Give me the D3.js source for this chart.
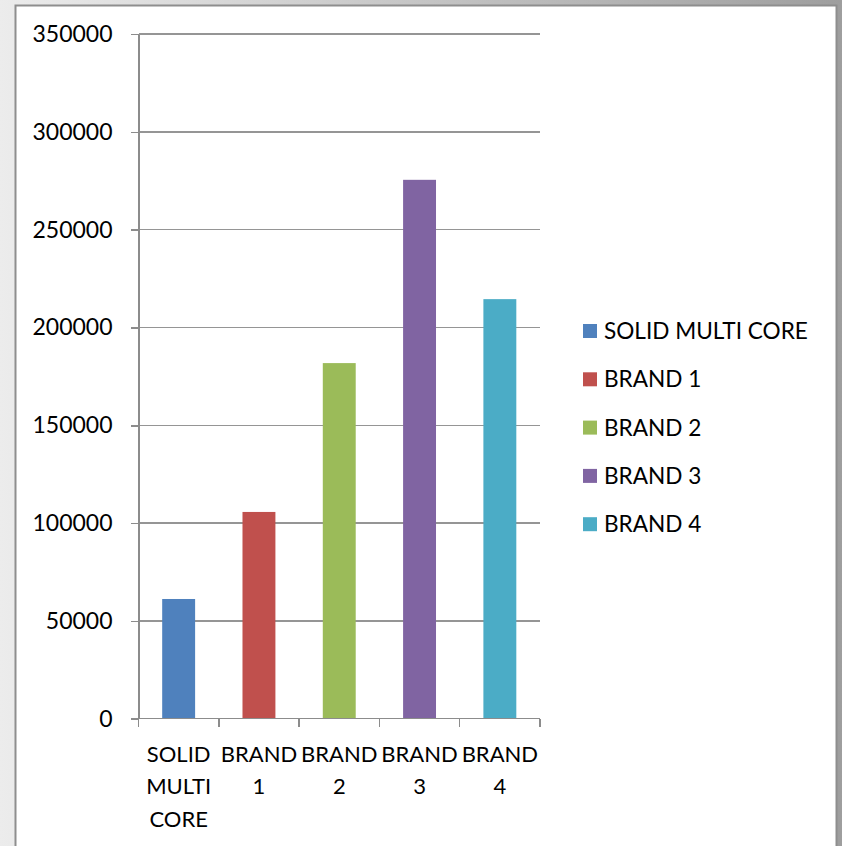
<!DOCTYPE html>
<html>
<head>
<meta charset="utf-8">
<title>Brand comparison</title>
<script src="https://cdnjs.cloudflare.com/ajax/libs/d3/7.8.5/d3.min.js"></script>
<style>
  body { margin: 0; padding: 0; }
  svg { display: block; }
  text { font-family: Lato, "Open Sans", sans-serif; fill: #000; }
  .axis path, .axis line { stroke: #8c8c8c; stroke-width: 1.5; shape-rendering: crispEdges; }
  .grid line { stroke: #959595; stroke-width: 1.5; shape-rendering: crispEdges; }
</style>
</head>
<body>
<div id="viz"></div>
<script>
// values
var categories = ["SOLID MULTI CORE", "BRAND 1", "BRAND 2", "BRAND 3", "BRAND 4"];
var values = [61200, 105700, 181800, 275500, 214500];
var colors = ["#4f81bd", "#c0504d", "#9bbb59", "#8064a2", "#4bacc6"];
var yTicks = [0, 50000, 100000, 150000, 200000, 250000, 300000, 350000];

var w = 842, h = 846;
var plot = {left: 138.5, right: 540, top: 34.1, bottom: 718.7};

var svg = d3.select("#viz").append("svg")
  .attr("width", w)
  .attr("height", h);

// backdrop
var grad = svg.append("defs").append("linearGradient")
  .attr("id", "bg").attr("x1", "0").attr("x2", "1").attr("y1", "0").attr("y2", "0");
grad.append("stop").attr("offset", "0").attr("stop-color", "#ececec");
grad.append("stop").attr("offset", "1").attr("stop-color", "#9e9e9e");

svg.append("rect").attr("width", w).attr("height", h).attr("fill", "url(#bg)");
svg.append("rect")
  .attr("x", 15.5).attr("y", 5.5).attr("width", 821).attr("height", 860)
  .attr("fill", "#fff").attr("stroke", "#8e8e8e").attr("stroke-width", 2);

var x = d3.scaleBand()
  .domain(categories)
  .range([plot.left, plot.right])
  .paddingInner(0.59)
  .paddingOuter(0.295);

var y = d3.scaleLinear()
  .domain([0, 350000])
  .range([plot.bottom, plot.top]);

// gridlines
svg.append("g").attr("class", "grid")
  .selectAll("line")
  .data(yTicks.slice(1))
  .enter().append("line")
  .attr("x1", plot.left).attr("x2", plot.right)
  .attr("y1", d => y(d)).attr("y2", d => y(d));

// bars
svg.append("g")
  .selectAll("rect")
  .data(values)
  .enter().append("rect")
  .attr("x", (d, i) => x(categories[i]))
  .attr("width", x.bandwidth())
  .attr("y", d => y(d))
  .attr("height", d => y(0) - y(d))
  .attr("fill", (d, i) => colors[i]);

// y axis
var yAxis = svg.append("g").attr("class", "axis")
  .attr("transform", "translate(" + plot.left + ",0)")
  .call(d3.axisLeft(y).tickValues(yTicks).tickSizeInner(8).tickSizeOuter(0).tickPadding(18).tickFormat(d3.format("d")));
yAxis.selectAll("text").style("font-size", "23px");

// x axis: baseline with ticks on the category boundaries
var xAxis = svg.append("g").attr("class", "axis");
xAxis.append("line")
  .attr("x1", plot.left).attr("x2", plot.right)
  .attr("y1", y(0)).attr("y2", y(0));
var half = x.step() * x.paddingInner() / 2;
var bounds = categories.map(c => x(c) - half).concat([plot.right]);
xAxis.selectAll("line.tick")
  .data(bounds)
  .enter().append("line")
  .attr("class", "tick")
  .attr("x1", d => d).attr("x2", d => d)
  .attr("y1", y(0)).attr("y2", y(0) + 8);

var xLabels = svg.append("g")
  .selectAll("text")
  .data(categories)
  .enter().append("text")
  .attr("text-anchor", "middle")
  .style("font-size", "22px")
  .attr("transform", d => "translate(" + (x(d) + x.bandwidth() / 2) + "," + (y(0) + 43) + ")");
xLabels.selectAll("tspan")
  .data(d => d.split(" "))
  .enter().append("tspan")
  .attr("x", 0)
  .attr("y", (d, i) => i * 32.7)
  .text(d => d);

// legend
var legend = svg.append("g")
  .attr("transform", "translate(583,331)")
  .selectAll("g")
  .data(categories)
  .enter().append("g")
  .attr("transform", (d, i) => "translate(0," + i * 48.3 + ")");
legend.append("rect")
  .attr("x", 0).attr("y", -7)
  .attr("width", 14).attr("height", 14)
  .attr("fill", (d, i) => colors[i]);
legend.append("text")
  .attr("x", 21).attr("y", 8)
  .style("font-size", "22.6px")
  .text(d => d);
</script>
</body>
</html>
